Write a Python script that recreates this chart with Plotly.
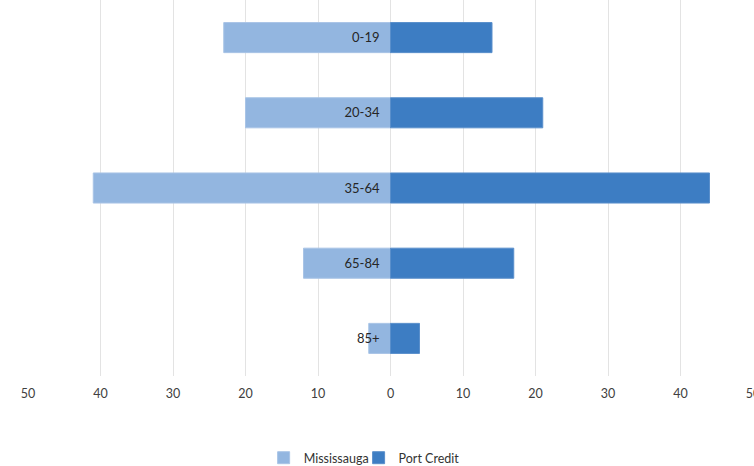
import plotly.graph_objects as go

# Age groups and the share of population (%) in each area
age_groups = ["0-19", "20-34", "35-64", "65-84", "85+"]
mississauga = [23, 20, 41, 12, 3]
port_credit = [14, 21, 44, 17, 4]

tick_vals = [-50, -40, -30, -20, -10, 0, 10, 20, 30, 40, 50]
tick_text = [str(abs(v)) for v in tick_vals]

grid_color = "#E3E3E3"
text_color = "#404040"

fig = go.Figure()
fig.add_trace(go.Bar(
    y=age_groups,
    x=[-v for v in mississauga],
    orientation="h",
    name="Mississauga",
    legend="legend",
    marker=dict(color="#93B6E0", line=dict(color="#A9C4E6", width=1)),
    hoverinfo="skip",
))
fig.add_trace(go.Bar(
    y=age_groups,
    x=port_credit,
    orientation="h",
    name="Port Credit",
    legend="legend2",
    marker=dict(color="#3D7DC3", line=dict(color="#5A8FCB", width=1)),
    hoverinfo="skip",
))

legend_style = dict(
    orientation="h",
    xanchor="left",
    yref="container",
    y=0.017, yanchor="middle",
    font=dict(size=12.5, color="#333333"),
    itemwidth=30,
    bgcolor="rgba(0,0,0,0)",
)

fig.update_layout(
    width=754,
    height=466,
    margin=dict(l=28, r=1, t=0, b=90, autoexpand=False),
    paper_bgcolor="white",
    plot_bgcolor="white",
    barmode="relative",
    bargap=0.6,
    font=dict(family="Lato, Open Sans, sans-serif", size=12, color=text_color),
    showlegend=True,
    legend=dict(x=0.325, **legend_style),
    legend2=dict(x=0.456, **legend_style),
    xaxis=dict(
        range=[-50, 50],
        tickvals=tick_vals,
        ticktext=tick_text,
        automargin=False,
        showgrid=True,
        gridcolor=grid_color,
        gridwidth=1,
        zeroline=True,
        zerolinecolor=grid_color,
        zerolinewidth=1,
        showline=False,
        ticks="",
        ticklabelstandoff=8,
        ticklabeloverflow="allow",
        tickfont=dict(size=12.5, color="#404040"),
        fixedrange=True,
    ),
    yaxis=dict(
        categoryorder="array",
        categoryarray=age_groups,
        autorange="reversed",
        anchor="free",
        position=0.5,
        side="left",
        automargin=False,
        showgrid=False,
        zeroline=False,
        showline=False,
        ticks="",
        ticklabelstandoff=11,
        tickfont=dict(size=13, color="#262626"),
        fixedrange=True,
    ),
)

fig.write_html("out.html")
